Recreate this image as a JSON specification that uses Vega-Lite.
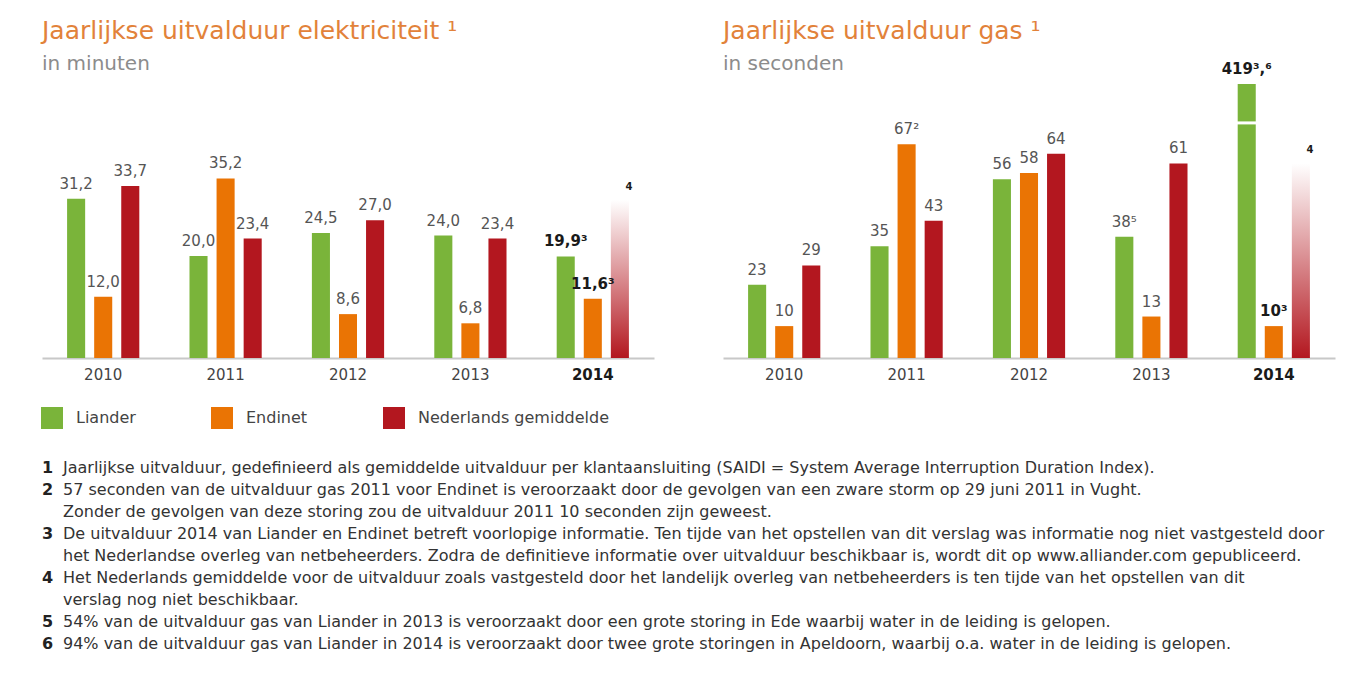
{
  "$schema": "https://vega.github.io/schema/vega-lite/v6.json",
  "background": "white",
  "padding": {"left": 41, "top": 19, "right": 10, "bottom": 5},
  "autosize": {"type": "pad"},
  "config": {
    "font": "DejaVu Sans",
    "view": {"stroke": null},
    "title": {"anchor": "start", "frame": "group", "fontSize": 25, "fontWeight": 400, "color": "#e2823a", "subtitleFontSize": 20, "subtitleColor": "#8c8c8c", "subtitlePadding": 10},
    "axisX": {"domainColor": "#c8c8c8", "domainWidth": 2, "ticks": false, "labelFontSize": 15, "labelAngle": 0, "labelPadding": 9,
      "labelColor": {"condition": {"test": "datum.value == '2014'", "value": "#1a1a1a"}, "value": "#444444"},
      "labelFontWeight": {"condition": {"test": "datum.value == '2014'", "value": 700}, "value": 400}}
  },
  "datasets": {
    "elektriciteit": [
      {"jaar": "2010", "reeks": "Liander", "waarde": 31.2, "label": "31,2", "beschikbaar": true},
      {"jaar": "2010", "reeks": "Endinet", "waarde": 12.0, "label": "12,0", "beschikbaar": true},
      {"jaar": "2010", "reeks": "Nederlands gemiddelde", "waarde": 33.7, "label": "33,7", "beschikbaar": true},
      {"jaar": "2011", "reeks": "Liander", "waarde": 20.0, "label": "20,0", "beschikbaar": true},
      {"jaar": "2011", "reeks": "Endinet", "waarde": 35.2, "label": "35,2", "beschikbaar": true},
      {"jaar": "2011", "reeks": "Nederlands gemiddelde", "waarde": 23.4, "label": "23,4", "beschikbaar": true},
      {"jaar": "2012", "reeks": "Liander", "waarde": 24.5, "label": "24,5", "beschikbaar": true},
      {"jaar": "2012", "reeks": "Endinet", "waarde": 8.6, "label": "8,6", "beschikbaar": true},
      {"jaar": "2012", "reeks": "Nederlands gemiddelde", "waarde": 27.0, "label": "27,0", "beschikbaar": true},
      {"jaar": "2013", "reeks": "Liander", "waarde": 24.0, "label": "24,0", "beschikbaar": true},
      {"jaar": "2013", "reeks": "Endinet", "waarde": 6.8, "label": "6,8", "beschikbaar": true},
      {"jaar": "2013", "reeks": "Nederlands gemiddelde", "waarde": 23.4, "label": "23,4", "beschikbaar": true},
      {"jaar": "2014", "reeks": "Liander", "waarde": 19.9, "label": "19,9³", "beschikbaar": true},
      {"jaar": "2014", "reeks": "Endinet", "waarde": 11.6, "label": "11,6³", "beschikbaar": true},
      {"jaar": "2014", "reeks": "Nederlands gemiddelde", "waarde": 31, "label": "4", "beschikbaar": false}
    ],
    "gas": [
      {"jaar": "2010", "reeks": "Liander", "waarde": 23, "label": "23", "beschikbaar": true},
      {"jaar": "2010", "reeks": "Endinet", "waarde": 10, "label": "10", "beschikbaar": true},
      {"jaar": "2010", "reeks": "Nederlands gemiddelde", "waarde": 29, "label": "29", "beschikbaar": true},
      {"jaar": "2011", "reeks": "Liander", "waarde": 35, "label": "35", "beschikbaar": true},
      {"jaar": "2011", "reeks": "Endinet", "waarde": 67, "label": "67²", "beschikbaar": true},
      {"jaar": "2011", "reeks": "Nederlands gemiddelde", "waarde": 43, "label": "43", "beschikbaar": true},
      {"jaar": "2012", "reeks": "Liander", "waarde": 56, "label": "56", "beschikbaar": true},
      {"jaar": "2012", "reeks": "Endinet", "waarde": 58, "label": "58", "beschikbaar": true},
      {"jaar": "2012", "reeks": "Nederlands gemiddelde", "waarde": 64, "label": "64", "beschikbaar": true},
      {"jaar": "2013", "reeks": "Liander", "waarde": 38, "label": "38⁵", "beschikbaar": true},
      {"jaar": "2013", "reeks": "Endinet", "waarde": 13, "label": "13", "beschikbaar": true},
      {"jaar": "2013", "reeks": "Nederlands gemiddelde", "waarde": 61, "label": "61", "beschikbaar": true},
      {"jaar": "2014", "reeks": "Liander", "waarde": 419, "label": "419³,⁶", "beschikbaar": true, "breuk": 73.7},
      {"jaar": "2014", "reeks": "Endinet", "waarde": 10, "label": "10³", "beschikbaar": true},
      {"jaar": "2014", "reeks": "Nederlands gemiddelde", "waarde": 61, "label": "4", "beschikbaar": false}
    ],
    "voetnoten": [
      {"regel": 0, "nr": "1", "tekst": "Jaarlijkse uitvalduur, gedefinieerd als gemiddelde uitvalduur per klantaansluiting (SAIDI = System Average Interruption Duration Index)."},
      {"regel": 1, "nr": "2", "tekst": "57 seconden van de uitvalduur gas 2011 voor Endinet is veroorzaakt door de gevolgen van een zware storm op 29 juni 2011 in Vught."},
      {"regel": 2, "nr": "", "tekst": "Zonder de gevolgen van deze storing zou de uitvalduur 2011 10 seconden zijn geweest."},
      {"regel": 3, "nr": "3", "tekst": "De uitvalduur 2014 van Liander en Endinet betreft voorlopige informatie. Ten tijde van het opstellen van dit verslag was informatie nog niet vastgesteld door"},
      {"regel": 4, "nr": "", "tekst": "het Nederlandse overleg van netbeheerders. Zodra de definitieve informatie over uitvalduur beschikbaar is, wordt dit op www.alliander.com gepubliceerd."},
      {"regel": 5, "nr": "4", "tekst": "Het Nederlands gemiddelde voor de uitvalduur zoals vastgesteld door het landelijk overleg van netbeheerders is ten tijde van het opstellen van dit"},
      {"regel": 6, "nr": "", "tekst": "verslag nog niet beschikbaar."},
      {"regel": 7, "nr": "5", "tekst": "54% van de uitvalduur gas van Liander in 2013 is veroorzaakt door een grote storing in Ede waarbij water in de leiding is gelopen."},
      {"regel": 8, "nr": "6", "tekst": "94% van de uitvalduur gas van Liander in 2014 is veroorzaakt door twee grote storingen in Apeldoorn, waarbij o.a. water in de leiding is gelopen."}
    ]
  },
  "columns": 2,
  "bounds": "flush",
  "spacing": {"row": 110, "column": 69},
  "resolve": {"scale": {"x": "independent", "y": "independent", "xOffset": "independent"}},
  "concat": [
    {
      "title": {"text": "Jaarlijkse uitvalduur elektriciteit ¹", "subtitle": "in minuten", "offset": 10},
      "width": 612,
      "height": 274,
      "data": {"name": "elektriciteit"},
      "encoding": {
        "x": {"field": "jaar", "type": "nominal", "title": null, "scale": {"paddingInner": 0.41, "paddingOuter": 0.205}},
        "xOffset": {"field": "reeks", "type": "nominal", "scale": {"domain": ["Liander", "Endinet", "Nederlands gemiddelde"], "paddingInner": 0.333, "paddingOuter": 0}},
        "y": {"field": "waarde", "type": "quantitative", "axis": null, "scale": {"domain": [0, 53.7]}}
      },
      "layer": [
        {
          "transform": [{"filter": "datum.beschikbaar"}],
          "mark": {"type": "bar"},
          "encoding": {
            "color": {"field": "reeks", "type": "nominal",
              "scale": {"domain": ["Liander", "Endinet", "Nederlands gemiddelde"], "range": ["#7ab43a", "#ea7404", "#b3171f"]},
              "legend": {"orient": "none", "legendX": -1, "legendY": 323, "direction": "horizontal", "title": null, "symbolType": "square", "symbolSize": 484, "symbolStrokeWidth": 0, "labelFontSize": 16, "labelColor": "#444444", "labelOffset": 13, "labelLimit": 400, "columnPadding": 75}}
          }
        },
        {
          "transform": [{"filter": "!datum.beschikbaar"}],
          "mark": {"type": "bar", "color": {"gradient": "linear", "x1": 0, "y1": 1, "x2": 0, "y2": 0, "stops": [{"offset": 0, "color": "#b3171f"}, {"offset": 1, "color": "#ffffff"}]}}
        },
        {
          "transform": [{"filter": "datum.jaar != '2014'"}],
          "mark": {"type": "text", "fontSize": 15, "color": "#555555", "baseline": "alphabetic", "dy": -10},
          "encoding": {"text": {"field": "label"}}
        },
        {
          "transform": [{"filter": "datum.jaar == '2014' && datum.beschikbaar"}],
          "mark": {"type": "text", "fontSize": 15, "fontWeight": "bold", "color": "#1a1a1a", "baseline": "alphabetic", "dy": -10},
          "encoding": {"text": {"field": "label"}}
        },
        {
          "transform": [{"filter": "!datum.beschikbaar"}],
          "mark": {"type": "text", "fontSize": 10, "fontWeight": "bold", "color": "#1a1a1a", "baseline": "alphabetic", "dy": -10, "dx": 9},
          "encoding": {"text": {"field": "label"}}
        }
      ]
    },
    {
      "title": {"text": "Jaarlijkse uitvalduur gas ¹", "subtitle": "in seconden", "offset": -12},
      "width": 612,
      "height": 274,
      "data": {"name": "gas"},
      "encoding": {
        "x": {"field": "jaar", "type": "nominal", "title": null, "scale": {"paddingInner": 0.41, "paddingOuter": 0.205}},
        "xOffset": {"field": "reeks", "type": "nominal", "scale": {"domain": ["Liander", "Endinet", "Nederlands gemiddelde"], "paddingInner": 0.333, "paddingOuter": 0}},
        "y": {"field": "waarde", "type": "quantitative", "axis": null, "scale": {"domain": [0, 85.9], "clamp": true}}
      },
      "layer": [
        {
          "transform": [{"filter": "datum.beschikbaar"}],
          "mark": {"type": "bar"},
          "encoding": {
            "color": {"field": "reeks", "type": "nominal"}
          }
        },
        {
          "transform": [{"filter": "!datum.beschikbaar"}],
          "mark": {"type": "bar", "color": {"gradient": "linear", "x1": 0, "y1": 1, "x2": 0, "y2": 0, "stops": [{"offset": 0, "color": "#b3171f"}, {"offset": 1, "color": "#ffffff"}]}}
        },
        {
          "transform": [{"filter": "isValid(datum.breuk)"}],
          "mark": {"type": "tick", "color": "#ffffff", "thickness": 3, "size": 22, "opacity": 1},
          "encoding": {"y": {"field": "breuk", "type": "quantitative"}}
        },
        {
          "transform": [{"filter": "datum.jaar != '2014'"}],
          "mark": {"type": "text", "fontSize": 15, "color": "#555555", "baseline": "alphabetic", "dy": -10},
          "encoding": {"text": {"field": "label"}}
        },
        {
          "transform": [{"filter": "datum.jaar == '2014' && datum.beschikbaar"}],
          "mark": {"type": "text", "fontSize": 15, "fontWeight": "bold", "color": "#1a1a1a", "baseline": "alphabetic", "dy": -10},
          "encoding": {"text": {"field": "label"}}
        },
        {
          "transform": [{"filter": "!datum.beschikbaar"}],
          "mark": {"type": "text", "fontSize": 10, "fontWeight": "bold", "color": "#1a1a1a", "baseline": "alphabetic", "dy": -10, "dx": 9},
          "encoding": {"text": {"field": "label"}}
        }
      ]
    },
    {
      "width": 21,
      "height": 176,
      "data": {"name": "voetnoten"},
      "encoding": {
        "y": {"field": "regel", "type": "quantitative", "axis": null, "scale": {"domain": [0, 8], "reverse": true}}
      },
      "layer": [
        {
          "mark": {"type": "text", "align": "left", "baseline": "middle", "fontSize": 16, "fontWeight": "bold", "color": "#222222"},
          "encoding": {
            "x": {"datum": "nr", "type": "nominal", "axis": null, "scale": {"type": "point", "domain": ["nr", "tekst"], "padding": 0}},
            "text": {"field": "nr"}
          }
        },
        {
          "mark": {"type": "text", "align": "left", "baseline": "middle", "fontSize": 16, "color": "#333333"},
          "encoding": {
            "x": {"datum": "tekst", "type": "nominal", "axis": null},
            "text": {"field": "tekst"}
          }
        }
      ]
    }
  ]
}
